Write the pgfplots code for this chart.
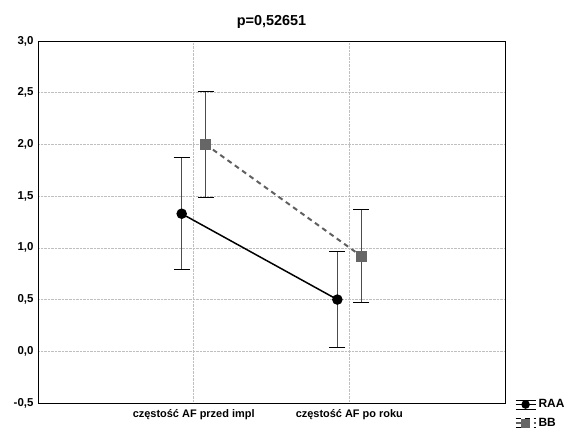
\documentclass[border=0pt]{standalone}
\usepackage{pgfplots}
\pgfplotsset{compat=1.18}
\usepackage{fontspec}
\setmainfont{Liberation Sans}
\begin{document}
\begin{tikzpicture}[x=1bp,y=1bp]
\path[use as bounding box] (0,0) rectangle (572,428);
\begin{axis}[
  at={(38bp,25bp)}, anchor=south west,
  scale only axis, width=467bp, height=362bp,
  xmin=0, xmax=3, ymin=-0.5, ymax=3.0,
  xtick={1,2},
  xticklabels={częstość AF przed impl, częstość AF po roku},
  ytick={-0.5,0,0.5,1,1.5,2,2.5,3},
  /pgf/number format/assume math mode=true,
  /pgf/number format/use comma,
  /pgf/number format/fixed,
  /pgf/number format/fixed zerofill,
  /pgf/number format/precision=1,
  xticklabel style={font=\bfseries\fontsize{11}{12}\selectfont, yshift=-3pt},
  yticklabel style={font=\bfseries\fontsize{11.5}{12}\selectfont, xshift=-1pt},
  major tick length=0pt,
  grid=major,
  major grid style={gray!50, densely dotted, line width=0.6pt},
  axis line style={black, line width=0.9pt},
  title={\bfseries p=0,52651},
  title style={font=\fontsize{14.5}{16}\selectfont, yshift=3pt},
  legend style={at={(1.018,0.018)}, anchor=north west, draw=none, fill=none,
    font=\bfseries\fontsize{12}{13}\selectfont, row sep=5pt, inner sep=1pt},
  legend cell align=left,
  legend image code/.code={
    \draw[black, line width=0.8pt] (0bp,4.5bp) -- (20bp,4.5bp);
    \draw[black, line width=0.8pt] (0bp,-4.5bp) -- (20bp,-4.5bp);
    \draw[mark repeat=2, mark phase=2, #1, mark size=3.5pt]
      plot coordinates {(0bp,0bp) (10bp,0bp) (20bp,0bp)};
  },
  clip=false,
]
\addplot[black, line width=1.5pt, mark=*, mark size=4.5pt,
  mark options={solid, fill=black},
  error bars/.cd, y dir=both, y explicit,
  error bar style={gray!60!black, line width=1pt, solid},
  error mark options={rotate=90, mark size=8bp, black, line width=1pt}]
  coordinates {
    (0.923,1.33) +- (0,0.54)
    (1.923,0.50) +- (0,0.46)
  };
\addlegendentry{RAA}
\addplot[gray!75!black, line width=2pt, dash pattern=on 5pt off 4pt, mark=square*, mark size=4.5pt,
  mark options={solid, fill=gray!80!black, draw=gray!80!black},
  error bars/.cd, y dir=both, y explicit,
  error bar style={gray!60!black, line width=1pt, solid},
  error mark options={rotate=90, mark size=8bp, black, line width=1pt}]
  coordinates {
    (1.077,2.00) +- (0,0.51)
    (2.077,0.92) +- (0,0.45)
  };
\addlegendentry{BB}
\end{axis}
\end{tikzpicture}
\end{document}
